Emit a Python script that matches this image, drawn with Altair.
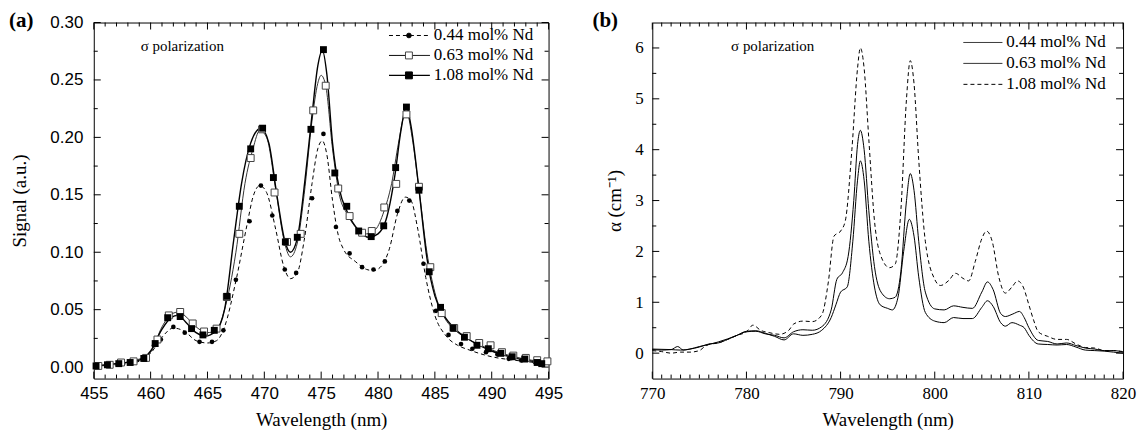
import altair as alt
import pandas as pd

# ---------------- Panel (a) data ----------------
a_names = ["0.44 mol% Nd", "0.63 mol% Nd", "1.08 mol% Nd"]

a044_px = [455.2, 456.2, 457.3, 458.3, 459.4, 460.3, 460.9, 462.0, 463.0, 464.3, 465.4, 466.4, 467.5, 468.7, 469.7, 470.7,
           471.8, 472.8, 474.2, 475.2, 476.3, 477.5, 478.6, 479.6, 480.6, 481.7, 482.75, 484.0, 485.1, 486.2, 487.3, 488.3,
           489.5, 490.5, 491.5, 492.6, 493.8, 494.4]
a044_py = [0.001, 0.0015, 0.003, 0.0035, 0.0066, 0.019, 0.024, 0.035, 0.030, 0.022, 0.022, 0.032, 0.076, 0.127, 0.158, 0.132,
           0.085, 0.082, 0.147, 0.203, 0.122, 0.099, 0.087, 0.085, 0.092, 0.136, 0.145, 0.090, 0.049, 0.028, 0.020, 0.016,
           0.013, 0.011, 0.0072, 0.0058, 0.0043, 0.003]

a063_px = [455.4, 456.4, 457.4, 458.5, 459.6, 460.6, 461.6, 462.6, 463.7, 464.7, 465.8, 466.7, 467.8, 468.8, 469.8, 470.9,
           472.0, 473.2, 474.3, 475.4, 476.5, 477.5, 478.6, 479.45, 480.55, 481.6, 482.5, 483.6, 484.6, 485.6, 486.7, 487.8,
           488.9, 489.9, 490.9, 491.9, 493.0, 494.0, 494.9]
a063_py = [0.001, 0.002, 0.004, 0.005, 0.008, 0.024, 0.045, 0.048, 0.038, 0.031, 0.0335, 0.061, 0.116, 0.182, 0.207, 0.152,
           0.109, 0.116, 0.2235, 0.245, 0.1555, 0.1315, 0.117, 0.1185, 0.139, 0.1595, 0.220, 0.157, 0.087, 0.047, 0.034, 0.027,
           0.021, 0.019, 0.013, 0.010, 0.008, 0.006, 0.005]

a108_px = [455.2, 456.2, 457.2, 458.2, 459.4, 460.4, 461.5, 462.6, 463.6, 464.6, 465.6, 466.7, 467.8, 468.8, 469.85, 470.8,
           471.85, 472.9, 474.1, 475.2, 476.2, 477.25, 478.3, 479.4, 480.5, 481.55, 482.5, 483.6, 484.5, 485.5, 486.6, 487.6,
           488.7, 489.7, 490.8, 491.8, 492.9, 494.0, 494.4]
a108_py = [0.001, 0.002, 0.003, 0.004, 0.0075, 0.0205, 0.043, 0.044, 0.0335, 0.028, 0.032, 0.0616, 0.140, 0.190, 0.208, 0.165,
           0.109, 0.113, 0.207, 0.2764, 0.169, 0.140, 0.1185, 0.1136, 0.123, 0.1737, 0.2264, 0.154, 0.083, 0.052, 0.034, 0.026,
           0.019, 0.016, 0.012, 0.009, 0.007, 0.004, 0.003]

a044_cx = [455, 457, 459, 460, 461, 462, 463, 464, 465, 465.8, 466.5, 467.5, 468.5, 469.0, 469.6, 470.2, 471.0, 471.7, 472.3,
           472.9, 473.5, 474.2, 474.7, 475.1, 475.5, 476.0, 476.5, 477.0, 478.0, 479.0, 479.6, 480.3, 481.0, 481.7, 482.4,
           482.9, 483.5, 484.2, 485.0, 486.0, 487, 488, 490, 492, 495]
a044_cy = [0.001, 0.002, 0.005, 0.012, 0.026, 0.034, 0.031, 0.023, 0.021, 0.023, 0.035, 0.075, 0.125, 0.148, 0.158, 0.152,
           0.12, 0.088, 0.077, 0.082, 0.11, 0.160, 0.19, 0.197, 0.185, 0.145, 0.115, 0.102, 0.092, 0.085, 0.084, 0.088, 0.103,
           0.133, 0.148, 0.145, 0.12, 0.078, 0.045, 0.027, 0.019, 0.015, 0.009, 0.006, 0.003]

a063_cx = [455, 457, 459, 460, 461, 461.8, 462.5, 463.2, 464, 465, 465.8, 466.5, 467.5, 468.3, 469, 469.6, 470.2, 471, 471.7,
           472.3, 472.9, 473.5, 474.2, 474.7, 475.0, 475.4, 476.0, 476.6, 477.3, 478.2, 479.0, 479.8, 480.5, 481.2, 481.8,
           482.3, 482.6, 483.0, 483.6, 484.3, 485, 485.8, 486.8, 488, 490, 492, 495]
a063_cy = [0.001, 0.003, 0.007, 0.013, 0.035, 0.046, 0.048, 0.043, 0.035, 0.030, 0.032, 0.05, 0.1, 0.16, 0.19, 0.206, 0.2,
           0.155, 0.112, 0.096, 0.108, 0.15, 0.215, 0.247, 0.254, 0.245, 0.19, 0.15, 0.133, 0.12, 0.116, 0.12, 0.135, 0.16,
           0.195, 0.218, 0.219, 0.2, 0.155, 0.1, 0.065, 0.044, 0.032, 0.024, 0.015, 0.009, 0.004]

a108_cx = [455, 457, 459, 460, 461, 461.8, 462.4, 463.2, 464, 464.8, 465.7, 466.5, 467.3, 468.0, 468.8, 469.7, 470.4, 471.1,
           471.8, 472.3, 472.9, 473.6, 474.2, 474.7, 475.1, 475.5, 476.0, 476.6, 477.3, 478.3, 479.2, 480.0, 480.7, 481.5,
           482.0, 482.5, 482.9, 483.6, 484.3, 485.0, 485.8, 486.8, 488, 490, 492, 495]
a108_cy = [0.001, 0.003, 0.006, 0.014, 0.033, 0.043, 0.045, 0.038, 0.03, 0.027, 0.031, 0.05, 0.11, 0.16, 0.195, 0.208, 0.195,
           0.15, 0.11, 0.1, 0.112, 0.165, 0.22, 0.262, 0.276, 0.255, 0.195, 0.155, 0.135, 0.119, 0.113, 0.116, 0.128, 0.168,
           0.205, 0.227, 0.21, 0.155, 0.095, 0.062, 0.045, 0.033, 0.024, 0.014, 0.008, 0.003]

a_x_major = [455, 460, 465, 470, 475, 480, 485, 490, 495]
a_x_minor = [v for v in range(456, 495) if v % 5 != 0]
a_y_major = [0.00, 0.05, 0.10, 0.15, 0.20, 0.25, 0.30]
a_y_minor = [0.025, 0.075, 0.125, 0.175, 0.225, 0.275]

# ---------------- Panel (b) data ----------------
b_names = ["0.44 mol% Nd", "0.63 mol% Nd", "1.08 mol% Nd"]

b044_x = [770, 771, 772, 772.7, 773.3, 774, 775, 776, 777, 778, 779, 780, 781, 782, 783, 784, 785, 786, 787, 788, 789, 789.5,
          790, 790.7, 791.3, 791.8, 792.1, 792.5, 793, 793.6, 794.2, 795, 795.5, 796.1, 796.7, 797.3, 797.8, 798.3, 799, 800,
          801, 802, 803, 804, 805, 805.6, 806.2, 807, 807.5, 808.2, 809, 809.5, 810, 811, 812, 813, 814, 815, 816, 817, 818,
          819, 820]
b044_y = [0.07, 0.06, 0.07, 0.13, 0.06, 0.08, 0.12, 0.18, 0.2, 0.27, 0.35, 0.43, 0.44, 0.39, 0.33, 0.26, 0.38, 0.35, 0.37,
          0.45, 0.7, 0.95, 1.2, 1.3, 2.2, 3.4, 3.78, 3.4, 2.2, 1.3, 0.95, 0.88, 0.85, 1.1, 2.0, 2.63, 2.3, 1.5, 0.8, 0.63, 0.6,
          0.7, 0.68, 0.68, 0.9, 1.03, 0.92, 0.6, 0.53, 0.6, 0.55, 0.5, 0.35, 0.18, 0.17, 0.16, 0.17, 0.12, 0.06, 0.05, 0.04,
          0.02, 0.0]

b063_x = [770, 772, 773, 774, 775, 776, 777, 778, 779, 780, 781, 782, 783, 784, 785, 786, 787, 788, 789, 789.6, 790.2, 790.8,
          791.4, 791.8, 792.1, 792.5, 793, 793.6, 794.3, 795.2, 795.8, 796.4, 797.0, 797.4, 797.8, 798.3, 799, 800, 801, 802,
          803, 804, 805, 805.6, 806.2, 807, 807.5, 808.3, 809, 809.5, 810, 811, 812, 813, 814, 815, 816, 817, 818, 819, 820]
b063_y = [0.08, 0.07, 0.06, 0.08, 0.13, 0.17, 0.22, 0.28, 0.35, 0.42, 0.43, 0.38, 0.35, 0.3, 0.42, 0.46, 0.45, 0.52, 0.85,
          1.45, 1.58, 1.9, 3.0, 4.1, 4.38, 4.0, 2.8, 1.7, 1.2, 1.07, 1.1, 1.6, 3.0, 3.53, 3.2, 2.2, 1.2, 0.87, 0.85, 0.93, 0.9,
          0.88, 1.2, 1.4, 1.25, 0.78, 0.72, 0.77, 0.82, 0.7, 0.5, 0.25, 0.23, 0.18, 0.2, 0.15, 0.1, 0.08, 0.05, 0.05, 0.02]

b108_x = [770, 771, 772, 773, 774, 775, 775.5, 776, 777, 778, 779, 780, 780.7, 781.5, 782.5, 783.5, 784.5, 785, 786, 787, 788,
          788.7, 789.3, 790, 790.5, 791.2, 791.8, 792.1, 792.5, 793, 793.6, 794.3, 795.2, 795.8, 796.4, 797.0, 797.4, 797.8,
          798.3, 799, 800, 800.6, 801.5, 802.2, 803, 803.6, 804.3, 805.0, 805.5, 806.1, 806.8, 807.5, 808.2, 808.8, 809.4, 810,
          810.5, 811, 812, 813, 814, 815, 816, 817, 818, 819, 820]
b108_y = [0.05, 0.03, 0.0, 0.02, 0.02, 0.05, 0.12, 0.17, 0.2, 0.27, 0.35, 0.42, 0.55, 0.45, 0.4, 0.37, 0.45, 0.57, 0.63, 0.62,
          0.75, 1.4, 2.3, 2.4, 2.6, 4.0, 5.6, 6.0, 5.6, 4.2, 2.6, 1.9, 1.68, 1.75, 2.8, 5.0, 5.75, 5.3, 3.8, 2.2, 1.45, 1.33,
          1.43, 1.57, 1.47, 1.42, 1.8, 2.25, 2.4, 2.2, 1.5, 1.18, 1.3, 1.42, 1.3, 0.95, 0.65, 0.42, 0.33, 0.27, 0.27, 0.18,
          0.11, 0.1, 0.05, 0.05, 0.03]

b_x_major = [770, 780, 790, 800, 810, 820]
b_x_minor = [v for v in range(771, 820) if v % 10 != 0]
b_y_major = [0, 1, 2, 3, 4, 5, 6]
b_y_minor = [0.5, 1.5, 2.5, 3.5, 4.5, 5.5]

SERIF = "'Liberation Serif', 'Times New Roman', Times, serif"
SANS = "'Liberation Sans', Arial, Helvetica, sans-serif"
WA, HA = 456, 357
WB, HB = 472, 357


def ticks(xenc, yenc, xmaj, xmin, ymaj, ymin, W, H):
    layers = []
    for vals, ln in ((xmaj, 7), (xmin, 4)):
        d = pd.DataFrame({"x": vals})
        layers.append(alt.Chart(d).mark_rule(color="black", strokeWidth=1).encode(
            x=xenc, y=alt.value(H), y2=alt.value(H - ln)))
        layers.append(alt.Chart(d).mark_rule(color="black", strokeWidth=1).encode(
            x=xenc, y=alt.value(0), y2=alt.value(ln)))
    for vals, ln in ((ymaj, 7), (ymin, 4)):
        d = pd.DataFrame({"y": vals})
        layers.append(alt.Chart(d).mark_rule(color="black", strokeWidth=1).encode(
            y=yenc, x=alt.value(0), x2=alt.value(ln)))
        layers.append(alt.Chart(d).mark_rule(color="black", strokeWidth=1).encode(
            y=yenc, x=alt.value(W), x2=alt.value(W - ln)))
    return layers


# ---------------- Panel (a) ----------------
xa = alt.X("x:Q", scale=alt.Scale(domain=[455, 495], nice=False, zero=False),
           axis=alt.Axis(values=a_x_major, ticks=False, domain=False, grid=False, labelFont=SANS, labelFontSize=17,
                         labelColor="black", labelPadding=7, labelFlush=False, labelOverlap=False,
                         title="Wavelength (nm)", titleFont=SERIF, titleFontSize=19, titleFontWeight="normal",
                         titleColor="black", titlePadding=9))
ya = alt.Y("y:Q", scale=alt.Scale(domain=[-0.01, 0.30], nice=False, zero=False),
           axis=alt.Axis(values=a_y_major, format=".2f", ticks=False, domain=False, grid=False, labelFont=SANS,
                         labelFontSize=17, labelColor="black", labelPadding=11,
                         title="Signal (a.u.)", titleFont=SERIF, titleFontSize=19, titleFontWeight="normal",
                         titleColor="black", titlePadding=20))

la = []
la += ticks(xa, ya, a_x_major, a_x_minor, a_y_major, a_y_minor, WA, HA)

la.append(alt.Chart(pd.DataFrame({"x": a044_cx, "y": a044_cy})).mark_line(
    color="black", strokeWidth=1, strokeDash=[4, 3], interpolate="monotone").encode(x=xa, y=ya))
la.append(alt.Chart(pd.DataFrame({"x": a063_cx, "y": a063_cy})).mark_line(
    color="#333333", strokeWidth=1, interpolate="monotone").encode(x=xa, y=ya))
la.append(alt.Chart(pd.DataFrame({"x": a108_cx, "y": a108_cy})).mark_line(
    color="black", strokeWidth=1.4, interpolate="monotone").encode(x=xa, y=ya))
la.append(alt.Chart(pd.DataFrame({"x": a044_px, "y": a044_py})).mark_point(
    shape="circle", filled=True, color="black", size=22, opacity=1).encode(x=xa, y=ya))
la.append(alt.Chart(pd.DataFrame({"x": a063_px, "y": a063_py})).mark_point(
    shape="square", filled=True, fill="white", stroke="#444444", strokeWidth=1, size=48, opacity=1).encode(x=xa, y=ya))
la.append(alt.Chart(pd.DataFrame({"x": a108_px, "y": a108_py})).mark_point(
    shape="square", filled=True, color="black", size=48, opacity=1).encode(x=xa, y=ya))

# legend (a)
a_styles = [dict(dash=[4, 3], shape="circle", fill="black", stroke="black", size=22, w=1),
            dict(dash=[1, 0], shape="square", fill="white", stroke="#444444", size=48, w=1),
            dict(dash=[1, 0], shape="square", fill="black", stroke="black", size=48, w=1.4)]
for i, name in enumerate(a_names):
    st = a_styles[i]
    yy = 13 + 20 * i
    d = pd.DataFrame({"label": [name]})
    la.append(alt.Chart(d).mark_rule(color="black", strokeWidth=st["w"], strokeDash=st["dash"]).encode(
        x=alt.value(296), x2=alt.value(337), y=alt.value(yy)))
    la.append(alt.Chart(d).mark_point(shape=st["shape"], filled=True, fill=st["fill"], stroke=st["stroke"],
                                      strokeWidth=1, size=st["size"], opacity=1).encode(
        x=alt.value(316), y=alt.value(yy)))
    la.append(alt.Chart(d).mark_text(align="left", baseline="middle", font=SERIF, fontSize=17, color="black").encode(
        x=alt.value(341), y=alt.value(yy), text="label:N"))

la.append(alt.Chart(pd.DataFrame({"t": ["σ polarization"]})).mark_text(
    align="left", baseline="middle", font=SERIF, fontSize=15, color="black").encode(
    x=alt.value(47), y=alt.value(24), text="t:N"))
la.append(alt.Chart(pd.DataFrame({"t": ["(a)"]})).mark_text(
    align="left", baseline="middle", font=SERIF, fontSize=21, fontWeight="bold", color="black").encode(
    x=alt.value(-85), y=alt.value(-2), text="t:N"))

panel_a = alt.layer(*la).properties(width=WA, height=HA)

# ---------------- Panel (b) ----------------
xb = alt.X("x:Q", scale=alt.Scale(domain=[770, 820], nice=False, zero=False),
           axis=alt.Axis(values=b_x_major, ticks=False, domain=False, grid=False, labelFont=SERIF, labelFontSize=17,
                         labelColor="black", labelPadding=7, labelFlush=False, labelOverlap=False,
                         title="Wavelength (nm)", titleFont=SERIF, titleFontSize=19, titleFontWeight="normal",
                         titleColor="black", titlePadding=9))
yb = alt.Y("y:Q", scale=alt.Scale(domain=[-0.5, 6.5], nice=False, zero=False),
           axis=alt.Axis(values=b_y_major, format="d", ticks=False, domain=False, grid=False, labelFont=SERIF,
                         labelFontSize=17, labelColor="black", labelPadding=9,
                         title="α (cm⁻¹)", titleFont=SERIF, titleFontSize=19, titleFontWeight="normal",
                         titleColor="black", titlePadding=10))

lb = []
lb += ticks(xb, yb, b_x_major, b_x_minor, b_y_major, b_y_minor, WB, HB)
lb.append(alt.Chart(pd.DataFrame({"x": b044_x, "y": b044_y})).mark_line(
    color="black", strokeWidth=1, interpolate="monotone").encode(x=xb, y=yb))
lb.append(alt.Chart(pd.DataFrame({"x": b063_x, "y": b063_y})).mark_line(
    color="black", strokeWidth=1, interpolate="monotone").encode(x=xb, y=yb))
lb.append(alt.Chart(pd.DataFrame({"x": b108_x, "y": b108_y})).mark_line(
    color="black", strokeWidth=1, strokeDash=[4, 3], interpolate="monotone").encode(x=xb, y=yb))

b_dash = [[1, 0], [1, 0], [4, 3]]
for i, name in enumerate(b_names):
    yy = 20 + 21 * i
    d = pd.DataFrame({"label": [name]})
    lb.append(alt.Chart(d).mark_rule(color="black", strokeWidth=1, strokeDash=b_dash[i]).encode(
        x=alt.value(WB - 160), x2=alt.value(WB - 121), y=alt.value(yy)))
    lb.append(alt.Chart(d).mark_text(align="left", baseline="middle", font=SERIF, fontSize=17, color="black").encode(
        x=alt.value(WB - 117), y=alt.value(yy), text="label:N"))

lb.append(alt.Chart(pd.DataFrame({"t": ["σ polarization"]})).mark_text(
    align="left", baseline="middle", font=SERIF, fontSize=15, color="black").encode(
    x=alt.value(79), y=alt.value(24), text="t:N"))
lb.append(alt.Chart(pd.DataFrame({"t": ["(b)"]})).mark_text(
    align="left", baseline="middle", font=SERIF, fontSize=21, fontWeight="bold", color="black").encode(
    x=alt.value(-60), y=alt.value(-2), text="t:N"))

panel_b = alt.layer(*lb).properties(width=WB, height=HB)

chart = alt.hconcat(panel_a, panel_b, spacing=28).configure(
    padding=0, background="white"
).configure_view(stroke="black", strokeWidth=1)

chart.save("out.html", embed_options={"renderer": "svg", "actions": False})
